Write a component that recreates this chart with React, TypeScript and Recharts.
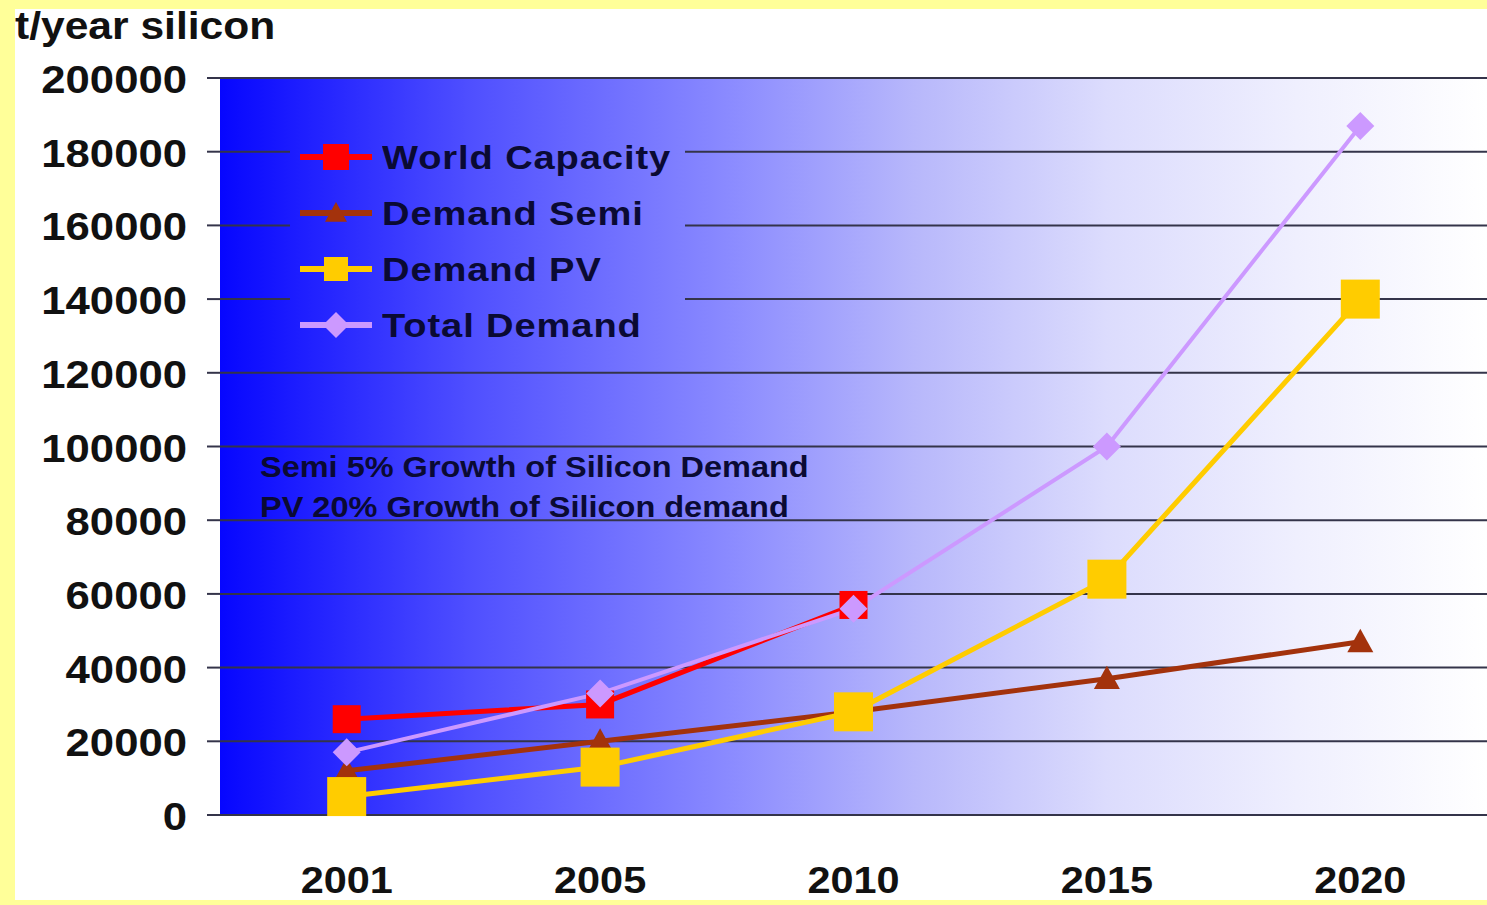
import {
  LineChart,
  Line,
  XAxis,
  YAxis,
  CartesianGrid,
  Legend,
} from "recharts";

const years = ["2001", "2005", "2010", "2015", "2020"];
const worldCapacity = [26000, 30000, 57000, null, null];
const demandSemi = [12000, 20000, 28000, 37000, 47000];
const demandPV = [5000, 13000, 28000, 64000, 140000];
const totalDemand = [17000, 33000, 56000, 100000, 187000];
const yTicks = [0, 20000, 40000, 60000, 80000, 100000, 120000, 140000, 160000, 180000, 200000];
const notes = ["Semi 5% Growth of Silicon Demand", "PV 20% Growth of Silicon demand"];
const seriesOrder = ["capacity", "semi", "pv", "total"];

const data = years.map((year, i) => ({
  year,
  capacity: worldCapacity[i],
  semi: demandSemi[i],
  pv: demandPV[i],
  total: totalDemand[i],
}));

const W = 1487;
const H = 905;
const PLOT_LEFT = 220;
const PLOT_TOP = 78;
const PLOT_BOTTOM = 815;
const PLOT_W = W - PLOT_LEFT;
const FONT = "'Liberation Sans', Arial, sans-serif";
const STRETCH = 1.12;

const RED = "#ff0000";
const BROWN = "#a3320c";
const YELLOW = "#ffcc00";
const LILAC = "#cc99ff";

const gradientStops: [number, string][] = [
  [0, "#0606ff"],
  [0.2, "#5050ff"],
  [0.4, "#8a8aff"],
  [0.55, "#b8b8fb"],
  [0.7, "#dcdcfd"],
  [0.85, "#efeffe"],
  [1, "#ffffff"],
];
const cssGradient = `linear-gradient(to right, ${gradientStops
  .map(([o, c]) => `${c} ${o * 100}%`)
  .join(", ")})`;

type Shape = "square" | "triangle" | "diamond";

function marker(shape: Shape, size: number, color: string, cx: number, cy: number, key?: any) {
  const h = size / 2;
  if (shape === "square") {
    return <rect key={key} x={cx - h} y={cy - h} width={size} height={size} fill={color} />;
  }
  if (shape === "triangle") {
    return (
      <polygon
        key={key}
        points={`${cx},${cy - h} ${cx + h},${cy + h * 0.8} ${cx - h},${cy + h * 0.8}`}
        fill={color}
      />
    );
  }
  return (
    <polygon
      key={key}
      points={`${cx},${cy - h} ${cx + h},${cy} ${cx},${cy + h} ${cx - h},${cy}`}
      fill={color}
    />
  );
}

const dotOf = (shape: Shape, size: number, color: string) => (props: any) => {
  const { cx, cy, index, value } = props;
  if (value == null || cy == null || isNaN(cy)) return <g key={`e${index}`} />;
  return marker(shape, size, color, cx, cy, `m${index}`);
};

const legendIcons: Record<string, { shape: Shape; size: number; color: string }> = {
  capacity: { shape: "square", size: 26, color: RED },
  semi: { shape: "triangle", size: 22, color: BROWN },
  pv: { shape: "square", size: 24, color: YELLOW },
  total: { shape: "diamond", size: 26, color: LILAC },
};

const LEG_LEFT = 290;
const LEG_TOP = 125;

function LegendBox({ payload }: any) {
  const items = [...(payload || [])].sort(
    (a: any, b: any) => seriesOrder.indexOf(a.dataKey) - seriesOrder.indexOf(b.dataKey)
  );
  return (
    <div
      style={{
        width: 395,
        height: 228,
        paddingTop: 4,
        boxSizing: "border-box",
        backgroundImage: cssGradient,
        backgroundSize: `${PLOT_W}px 100%`,
        backgroundPosition: `${PLOT_LEFT - LEG_LEFT}px 0`,
        backgroundRepeat: "no-repeat",
      }}
    >
      {items.map((entry: any) => {
        const icon = legendIcons[entry.dataKey];
        return (
          <div key={entry.dataKey} style={{ display: "flex", alignItems: "center", height: 56 }}>
            <svg width={82} height={40} style={{ marginLeft: 10, flex: "none" }}>
              <line x1={0} y1={20} x2={72} y2={20} stroke={icon.color} strokeWidth={6} />
              {marker(icon.shape, icon.size, icon.color, 36, 20)}
            </svg>
            <span
              style={{
                fontFamily: FONT,
                fontWeight: "bold",
                fontSize: 34,
                letterSpacing: 0.8,
                color: "#0a0a33",
                display: "inline-block",
                transform: `scaleX(${STRETCH})`,
                transformOrigin: "left center",
                whiteSpace: "nowrap",
              }}
            >
              {entry.value}
            </span>
          </div>
        );
      })}
    </div>
  );
}

function YTick({ x, y, payload }: any) {
  return (
    <text
      transform={`translate(${x},${y + 15}) scale(${STRETCH},1)`}
      textAnchor="end"
      fontFamily={FONT}
      fontWeight="bold"
      fontSize={39}
      fill="#111111"
    >
      {payload.value}
    </text>
  );
}

function XTick({ x, y, payload }: any) {
  return (
    <text
      transform={`translate(${x},${y + 70}) scale(${STRETCH},1)`}
      textAnchor="middle"
      fontFamily={FONT}
      fontWeight="bold"
      fontSize={37}
      fill="#111111"
    >
      {payload.value}
    </text>
  );
}

export default function App() {
  return (
    <div
      style={{
        position: "fixed",
        left: 0,
        top: 0,
        width: W,
        height: H,
        background: "#ffff99",
        overflow: "hidden",
      }}
    >
      <div
        style={{
          position: "absolute",
          left: 15,
          top: 9,
          width: W - 15,
          height: 891,
          background: "#ffffff",
          overflow: "hidden",
        }}
      >
        <div style={{ position: "absolute", left: -15, top: -9, width: W, height: H }}>
          <LineChart
            width={W}
            height={H}
            data={data}
            margin={{ top: PLOT_TOP, right: 0, bottom: 30, left: 20 }}
          >
            <defs>
              <linearGradient id="plotBg" x1="0" y1="0" x2="1" y2="0">
                {gradientStops.map(([o, c]) => (
                  <stop key={o} offset={o} stopColor={c} />
                ))}
              </linearGradient>
            </defs>
            <CartesianGrid
              vertical={false}
              stroke="#34344a"
              strokeWidth={2}
              fill="url(#plotBg)"
              fillOpacity={1}
            />
            <XAxis
              dataKey="year"
              scale="band"
              height={H - PLOT_BOTTOM - 30}
              axisLine={false}
              tickLine={false}
              tick={<XTick />}
              interval={0}
            />
            <YAxis
              width={PLOT_LEFT - 20}
              domain={[0, 200000]}
              ticks={yTicks}
              axisLine={false}
              tickLine={{ stroke: "#34344a", strokeWidth: 2 }}
              tickSize={13}
              tickMargin={20}
              tick={<YTick />}
              interval={0}
            />
            <Legend
              layout="vertical"
              align="center"
              verticalAlign="middle"
              itemSorter={null as any}
              content={<LegendBox />}
              wrapperStyle={{ left: LEG_LEFT, top: LEG_TOP, width: 395, height: 228 }}
            />
            <Line
              dataKey="capacity"
              name="World Capacity"
              stroke={RED}
              strokeWidth={5}
              dot={dotOf("square", 28, RED)}
              isAnimationActive={false}
            />
            <Line
              dataKey="semi"
              name="Demand Semi"
              stroke={BROWN}
              strokeWidth={5}
              dot={dotOf("triangle", 26, BROWN)}
              isAnimationActive={false}
            />
            <Line
              dataKey="pv"
              name="Demand PV"
              stroke={YELLOW}
              strokeWidth={5}
              dot={dotOf("square", 39, YELLOW)}
              isAnimationActive={false}
            />
            <Line
              dataKey="total"
              name="Total Demand"
              stroke={LILAC}
              strokeWidth={4}
              dot={dotOf("diamond", 28, LILAC)}
              isAnimationActive={false}
            />
          </LineChart>
          {notes.map((t, i) => (
            <div
              key={t}
              style={{
                position: "absolute",
                left: 260,
                top: 450 + i * 40,
                fontFamily: FONT,
                fontWeight: "bold",
                fontSize: 29,
                lineHeight: "34px",
                color: "#0a0a33",
                transform: `scaleX(${STRETCH})`,
                transformOrigin: "left top",
                whiteSpace: "nowrap",
              }}
            >
              {t}
            </div>
          ))}
        </div>
      </div>
      <div
        style={{
          position: "absolute",
          left: 15,
          top: 7,
          fontFamily: FONT,
          fontWeight: "bold",
          fontSize: 38,
          lineHeight: "38px",
          color: "#111111",
          transform: `scaleX(${STRETCH})`,
          transformOrigin: "left top",
          whiteSpace: "nowrap",
        }}
      >
        t/year silicon
      </div>
    </div>
  );
}
